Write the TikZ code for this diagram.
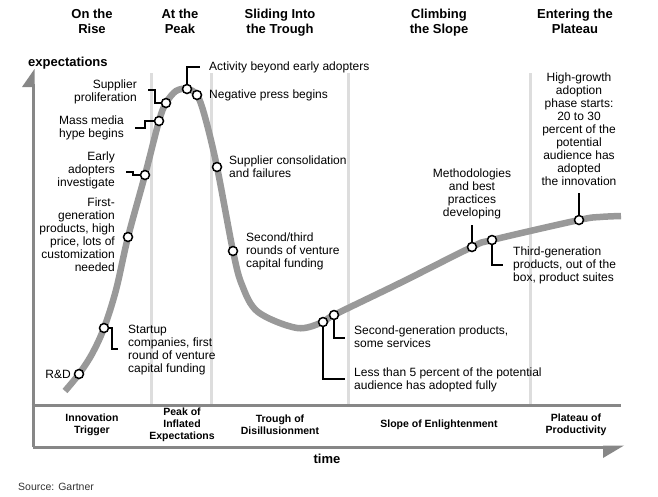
\documentclass[tikz,border=0pt]{standalone}
\usepackage{fontspec}
\setmainfont{Liberation Sans}
\definecolor{axisgray}{RGB}{135,135,135}
\definecolor{curvegray}{RGB}{153,153,153}
\definecolor{sepgray}{RGB}{221,221,221}
\usetikzlibrary{backgrounds}

\begin{document}
\begin{tikzpicture}[x=1pt, y=-1pt,
    dotnode/.style={circle, draw=black, fill=white, line width=1.5pt, minimum size=9pt, inner sep=0pt},
    leader/.style={draw=black, line width=1.4pt},
    note/.style={inner sep=0pt, font=\fontsize{12}{13}\selectfont},
    phase/.style={inner sep=0pt, align=center, font=\fontsize{13}{14.5}\selectfont\bfseries},
    stage/.style={inner sep=0pt, align=center, font=\fontsize{10.5}{12}\selectfont\bfseries}]
      \useasboundingbox (0,0) rectangle (658,496);

      \node[phase, anchor=north] (rise) at (92,9) {On the\\Rise};
      \node[phase, anchor=north] (peak) at (180,9) {At the\\Peak};
      \node[phase, anchor=north] (slide) at (280,9) {Sliding Into\\the Trough};
      \node[phase, anchor=north] (climb) at (439,9) {Climbing\\the Slope};
      \node[phase, anchor=north] (enter) at (575,9) {Entering the\\Plateau};
      \node[phase, anchor=base west] (expect) at (28,66) {expectations};

      \node[dotnode] (rdDot) at (79,374) {};
      \node[dotnode] (stDot) at (104,328) {};
      \node[dotnode] (fgDot) at (128,237) {};
      \node[dotnode] (eaDot) at (145,175) {};
      \node[dotnode] (mmDot) at (159,121) {};
      \node[dotnode] (spDot) at (166,103) {};
      \node[dotnode] (acDot) at (187,89) {};
      \node[dotnode] (npDot) at (197,95) {};
      \node[dotnode] (scDot) at (217,167) {};
      \node[dotnode] (srDot) at (233,251) {};
      \node[dotnode] (ltDot) at (323,322) {};
      \node[dotnode] (sgDot) at (334,315) {};
      \node[dotnode] (meDot) at (472,247) {};
      \node[dotnode] (tgDot) at (492,240) {};
      \node[dotnode] (hgDot) at (579,220) {};

      \node[note, anchor=east] (rdLbl) at (71,374) {R\&D};
      \node[note, anchor=north west, align=left] (stLbl) at (128,325) {Startup\\companies, first\\round of venture\\capital funding};
      \node[note, anchor=north east, align=right] (fgLbl) at (115,198) {First-\\generation\\products, high\\price, lots of\\customization\\needed};
      \node[note, anchor=north east, align=right] (eaLbl) at (115,152) {Early\\adopters\\investigate};
      \node[note, anchor=north east, align=right] (mmLbl) at (124,116) {Mass media\\hype begins};
      \node[note, anchor=north east, align=right] (spLbl) at (137,80) {Supplier\\proliferation};
      \node[note, anchor=west] (acLbl) at (209,67) {Activity beyond early adopters};
      \node[note, anchor=west] (npLbl) at (209,95) {Negative press begins};
      \node[note, anchor=north west, align=left] (scLbl) at (229,156) {Supplier consolidation\\and failures};
      \node[note, anchor=north west, align=left] (srLbl) at (246,233) {Second/third\\rounds of venture\\capital funding};
      \node[note, anchor=north west, align=left] (sgLbl) at (354,326) {Second-generation products,\\some services};
      \node[note, anchor=north west, align=left] (ltLbl) at (354,368) {Less than 5 percent of the potential\\audience has adopted fully};
      \node[note, anchor=north, align=center] (meLbl) at (472,169) {Methodologies\\and best\\practices\\developing};
      \node[note, anchor=north west, align=left] (tgLbl) at (513,247) {Third-generation\\products, out of the\\box, product suites};
      \node[note, anchor=north, align=center] (hgLbl) at (579,73) {High-growth\\adoption\\phase starts:\\20 to 30\\percent of the\\potential\\audience has\\adopted\\the innovation};

      \node[stage] (trigger) at (92,425) {Innovation\\Trigger};
      \node[stage] (inflated) at (182,425) {Peak of\\Inflated\\Expectations};
      \node[stage] (trough) at (280,425) {Trough of\\Disillusionment};
      \node[stage] (slope) at (439,425) {Slope of Enlightenment};
      \node[stage] (plateau) at (576,425) {Plateau of\\Productivity};
      \node[phase] (time) at (327,459) {time};
      \node[inner sep=0pt, anchor=west, text=black!80, font=\fontsize{10.5}{12}\selectfont] (source) at (18,487) {Source: Gartner};

      \coordinate (stEnd) at (118,349);
      \coordinate (eaEnd) at (126,172);
      \coordinate (mmEnd) at (135,128);
      \coordinate (spEnd) at (148,90);
      \coordinate (acEnd) at (200,67);
      \coordinate (sgEnd) at (345,338);
      \coordinate (ltEnd) at (345,379);
      \coordinate (meEnd) at (472,225);
      \coordinate (tgEnd) at (503,265);
      \coordinate (hgEnd) at (579,193);

      \begin{scope}[on background layer]
        \foreach \x in {151,211,348,530}
          \draw[sepgray, line width=3pt] (\x,73) -- (\x,404);
        \draw[axisgray, line width=3pt] (33,447) -- (33,84);
        \fill[axisgray] (34.5,69) -- (22,87) -- (34.5,87) -- cycle;
        \draw[axisgray, line width=3pt] (33,447) -- (606,447);
        \fill[axisgray] (624,445.5) -- (603,445.5) -- (603,458) -- cycle;
        \draw[axisgray, line width=3pt] (31.5,405) -- (621,405);

        \draw[curvegray, line width=6.5pt] plot[smooth, tension=0.55] coordinates {
          (65,391) (rdDot.center) (92,354) (stDot.center) (116,290) (fgDot.center)
          (eaDot.center) (mmDot.center) (spDot.center) (176,91) (acDot.center)
          (npDot.center) (205,117) (scDot.center) (srDot.center) (242,285) (258,312)
          (297,328) (ltDot.center) (sgDot.center) (400,283) (meDot.center)
          (tgDot.center) (hgDot.center) (600,217) (621,216)};

        \draw[leader] (stDot.center) -- ++(8,0) |- (stEnd);
        \draw[leader] (eaDot.center) -- ++(-12,0) |- (eaEnd);
        \draw[leader] (mmDot.center) -- ++(-14,0) |- (mmEnd);
        \draw[leader] (spDot.center) -- ++(-11,0) |- (spEnd);
        \draw[leader] (acDot.center) |- (acEnd);
        \draw[leader] (sgDot.center) |- (sgEnd);
        \draw[leader] (ltDot.center) |- (ltEnd);
        \draw[leader] (meDot.center) -- (meEnd);
        \draw[leader] (tgDot.center) |- (tgEnd);
        \draw[leader] (hgDot.center) -- (hgEnd);
      \end{scope}
    \end{tikzpicture}
\end{document}
